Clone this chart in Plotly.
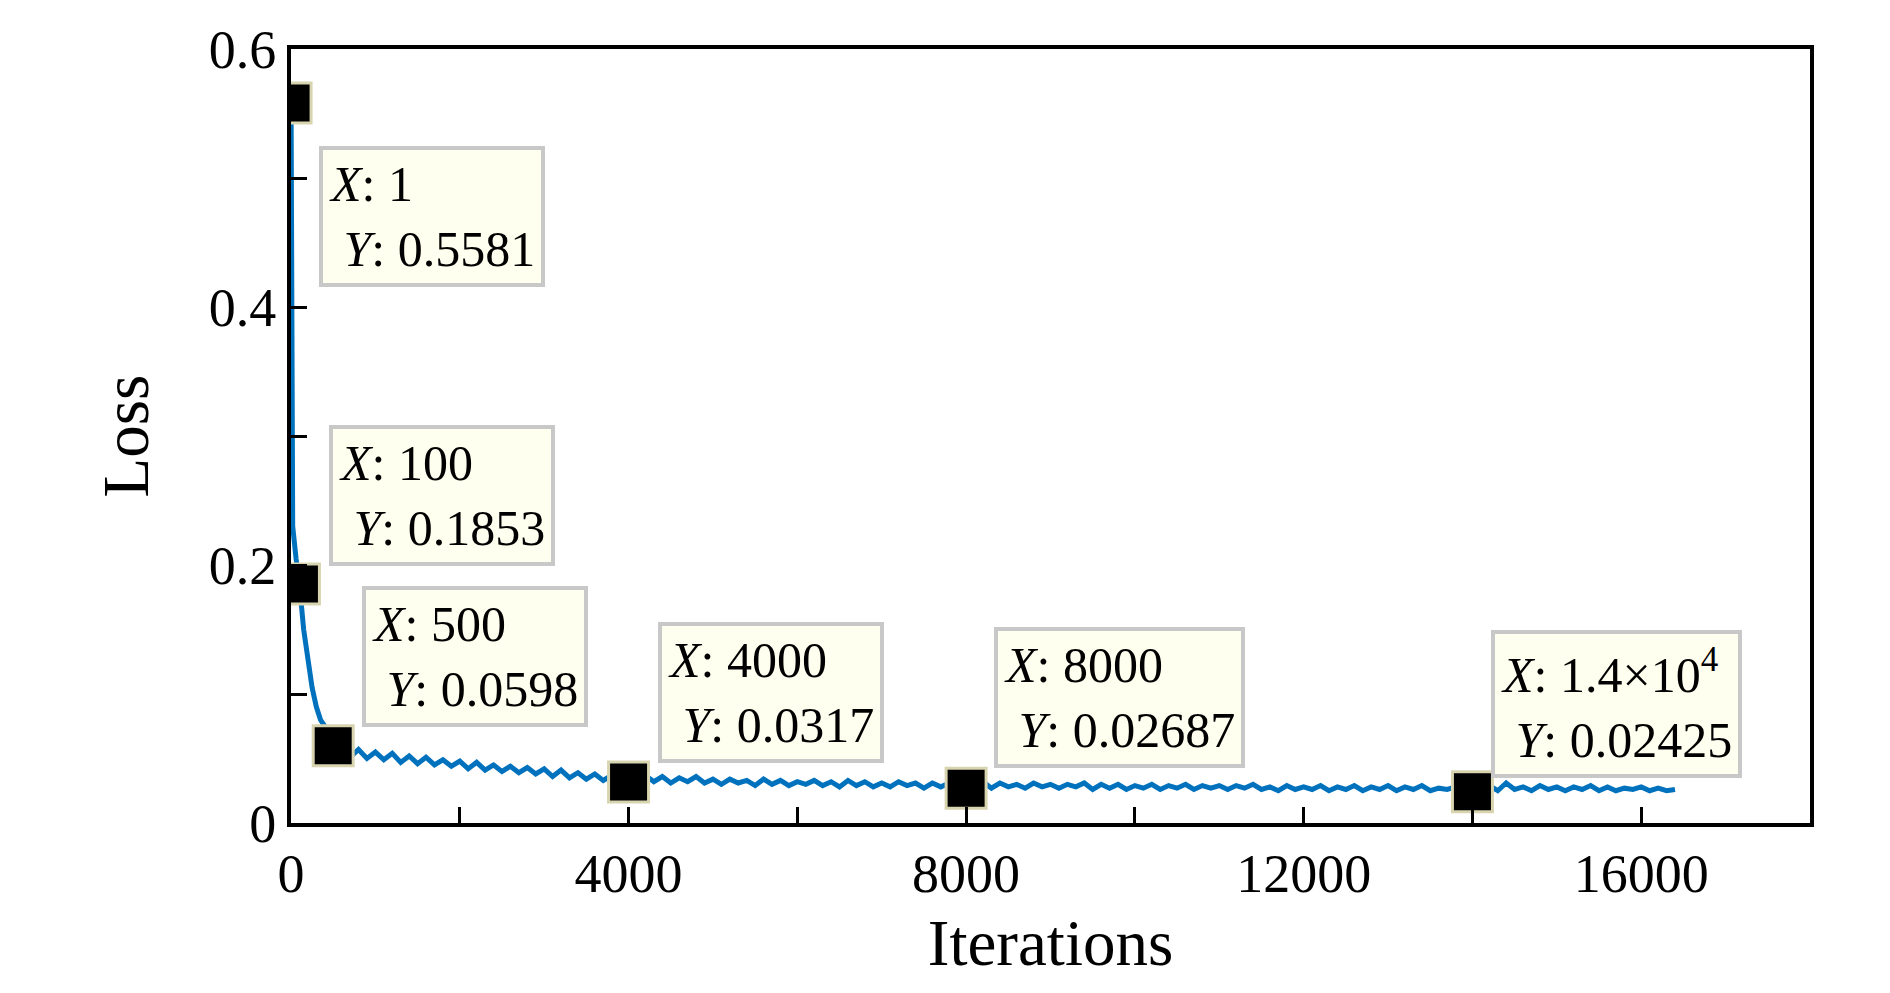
import plotly.graph_objects as go

# loss curve
iters_head = [1, 20, 60, 100, 150, 200, 250, 300, 350, 400, 450, 500]
loss_head = [0.5581, 0.23, 0.205, 0.1853, 0.15, 0.125, 0.105, 0.09, 0.08, 0.075, 0.068, 0.0598]

loss_tail = [
    0.056, 0.051, 0.057, 0.050, 0.055,
    0.049, 0.054, 0.047, 0.052, 0.046, 0.051, 0.045, 0.049, 0.044, 0.048,
    0.042, 0.047, 0.041, 0.045, 0.040, 0.044, 0.039, 0.043, 0.038, 0.042,
    0.036, 0.041, 0.035, 0.039, 0.034, 0.038, 0.033, 0.037, 0.032, 0.0317,
    0.034, 0.037, 0.032, 0.036, 0.031, 0.035, 0.032, 0.036, 0.031, 0.034,
    0.030, 0.034, 0.031, 0.033, 0.029, 0.034, 0.030, 0.033, 0.029, 0.032,
    0.030, 0.033, 0.029, 0.032, 0.028, 0.033, 0.029, 0.032, 0.028, 0.031,
    0.028, 0.032, 0.029, 0.031, 0.027, 0.031, 0.028, 0.031, 0.027, 0.02687,
    0.029, 0.032, 0.027, 0.031, 0.028, 0.030, 0.027, 0.031, 0.028, 0.030,
    0.027, 0.030, 0.028, 0.031, 0.026, 0.030, 0.027, 0.030, 0.026, 0.029,
    0.027, 0.030, 0.026, 0.029, 0.027, 0.030, 0.026, 0.029, 0.027, 0.029,
    0.026, 0.029, 0.027, 0.030, 0.026, 0.028, 0.025, 0.029, 0.026, 0.028,
    0.026, 0.029, 0.025, 0.028, 0.026, 0.029, 0.025, 0.028, 0.026, 0.029,
    0.025, 0.028, 0.026, 0.029, 0.025, 0.027, 0.026, 0.028, 0.025, 0.02425,
    0.026, 0.029, 0.025, 0.031, 0.026, 0.028, 0.025, 0.029, 0.026, 0.028,
    0.025, 0.028, 0.026, 0.029, 0.025, 0.028, 0.025, 0.027, 0.026, 0.028,
    0.025, 0.027, 0.025, 0.026,
]
iters_tail = list(range(600, 600 + 100 * len(loss_tail), 100))

iterations = iters_head + iters_tail
loss = loss_head + loss_tail

# data tips
tip_x = [1, 100, 500, 4000, 8000, 14000]
tip_y = [0.5581, 0.1853, 0.0598, 0.0317, 0.02687, 0.02425]
tip_xlabel = ["1", "100", "500", "4000", "8000", "1.4×10<sup>4</sup>"]
tip_ylabel = ["0.5581", "0.1853", "0.0598", "0.0317", "0.02687", "0.02425"]
box_x = [330, 455, 840, 4345, 8330, 14215]
box_y = [0.5246, 0.3087, 0.1838, 0.156, 0.1516, 0.1498]

font = "Liberation Serif"

fig = go.Figure()
fig.add_trace(go.Scatter(x=iterations, y=loss, mode="lines",
                         line=dict(color="#0072BD", width=5)))
fig.add_trace(go.Scatter(x=tip_x, y=tip_y, mode="markers",
                         marker=dict(symbol="square", size=40, color="black",
                                     line=dict(color="#d8d4b0", width=3))))

for bx, by, xl, yl in zip(box_x, box_y, tip_xlabel, tip_ylabel):
    fig.add_annotation(x=bx, y=by, xanchor="left", yanchor="top", showarrow=False,
                       text=f"<i>X</i>: {xl}<br> <i>Y</i>: {yl}", align="left",
                       font=dict(family=font, size=50, color="black"),
                       bgcolor="#fffff0", bordercolor="#c8c8c8", borderwidth=4,
                       borderpad=6)

fig.update_layout(
    width=1890, height=993, showlegend=False,
    plot_bgcolor="white", paper_bgcolor="white",
    margin=dict(l=283, r=88, t=30, b=178),
    font=dict(family=font, size=54, color="black"),
)
fig.update_xaxes(
    range=[0, 18000], tickvals=list(range(0, 18001, 2000)),
    ticktext=["0", "", "4000", "", "8000", "", "12000", "", "16000", ""],
    ticks="inside", ticklen=16, tickwidth=3, tickcolor="black",
    showline=True, linecolor="black", linewidth=4, mirror=True,
    showgrid=False, zeroline=False,
    title=dict(text="Iterations", standoff=18),
)
fig.update_yaxes(
    range=[0, 0.6], tickvals=[0, 0.1, 0.2, 0.3, 0.4, 0.5, 0.6],
    ticktext=["0", "", "0.2", "", "0.4", "", "0.6"],
    ticks="inside", ticklen=16, tickwidth=3, tickcolor="black",
    showline=True, linecolor="black", linewidth=4, mirror=True,
    showgrid=False, zeroline=False,
    title=dict(text="Loss", standoff=40),
)

fig.write_html("out.html")
